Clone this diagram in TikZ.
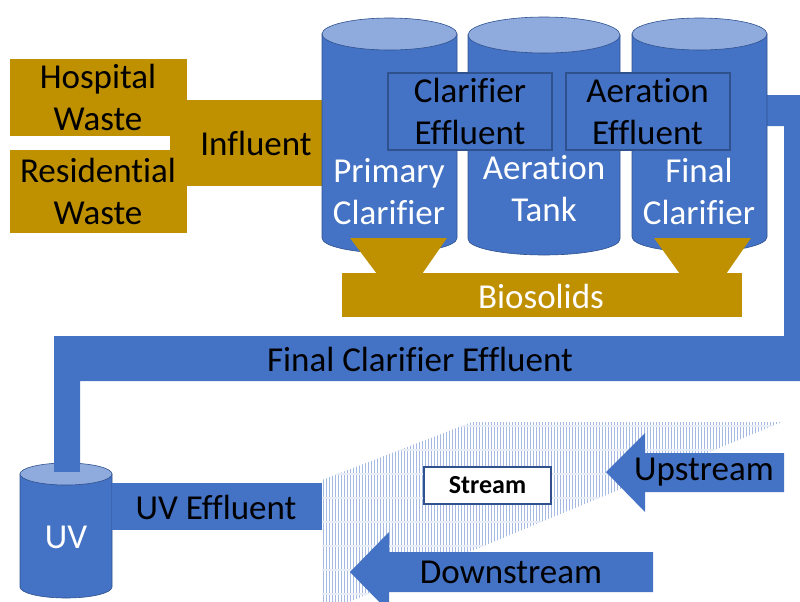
\documentclass[tikz,border=0pt]{standalone}
\usepackage{fontspec}
\setmainfont{Carlito}[Ligatures=NoCommon]
\definecolor{pipeblue}{HTML}{4472C4}
\definecolor{toplight}{HTML}{8FAADC}
\definecolor{edgeblue}{HTML}{2F528F}
\definecolor{sludge}{HTML}{BF9000}
\definecolor{hatchblue}{HTML}{A6BBE3}
\definecolor{hatchpale}{HTML}{E8EDF7}
\tikzset{
  lbl/.style={font=\fontsize{35}{42}\selectfont, align=center, inner sep=0pt},
  lblwhite/.style={lbl, text=white},
  effbox/.style={lbl, draw=edgeblue, line width=2pt, fill=pipeblue, minimum width=164pt, minimum height=77pt},
  pipe/.style={fill=pipeblue},
  goldfill/.style={fill=sludge},
  tankbody/.style={fill=pipeblue, draw=edgeblue, line width=0.6pt},
  tanklid/.style={fill=toplight, draw=edgeblue, line width=0.6pt},
}
% tank: left x, right x, lid centre y, base centre y, lid radius, base radius
\newcommand{\drawtank}[6]{%
  \pgfmathsetmacro{\tcx}{(#1+#2)/2}%
  \pgfmathsetmacro{\trx}{(#2-#1)/2}%
  \path[tankbody] (#1,#3) -- (#1,#4)
     arc[start angle=180, end angle=360, x radius=\trx pt, y radius=#6pt]
     -- (#2,#3) -- cycle;
  \path[tanklid] (\tcx,#3) ellipse[x radius=\trx pt, y radius=#5pt];
}
\begin{document}
\begin{tikzpicture}[x=1pt, y=-1pt]
\useasboundingbox (0,0) rectangle (800,602);
\clip (0,0) rectangle (800,602);

% ---------- stream bed (hatched) ----------
\begin{scope}
  \clip (322,480) -- (472,422) -- (782,422) -- (349,602) -- (322,602) -- cycle;
  \fill[white] (300,400) rectangle (800,602);
  \foreach \i in {0,...,155} {
    \draw[hatchblue, line width=1pt] ({323+3*\i},415) -- ++(0,190);
  }
  \foreach \j in {0,...,8} {
    \draw[hatchpale, line width=1.2pt] (320,{426+24*\j}) -- ++(470,0);
  }
\end{scope}

% ---------- influent ----------
\path[goldfill] (170,100) rectangle (322,186);
\path[goldfill] (10,59) rectangle (187,136);
\path[goldfill] (10,150) rectangle (187,233);
\node[lbl] (hosp) at (98,97) {Hospital\\Waste};
\node[lbl] (resi) at (98,191) {Residential\\Waste};
\node[lbl] (infl) at (256,143) {Influent};

% ---------- outlet pipe from the final clarifier to UV ----------
\path[pipe] (760,95) -- (800,95) -- (800,381) -- (80,381) -- (80,472)
   -- (54,472) -- (54,336) -- (784,336) -- (784,126) -- (760,126) -- cycle;
\node[lbl] (fce) at (420,359) {Final Clarifier Effluent};

% ---------- treatment tanks ----------
\drawtank{322}{457}{34}{238}{16}{15}
\drawtank{468}{620}{35}{239}{18}{16}
\drawtank{632}{767}{34}{237}{16}{15}
\node[lblwhite] (pc) at (389,192) {Primary\\Clarifier};
\node[lblwhite] (at) at (544,189) {Aeration\\Tank};
\node[lblwhite] (fc) at (699,191) {Final\\Clarifier};

\node[effbox] (ce) at (470,111.5) {Clarifier\\Effluent};
\node[effbox] (ae) at (647.5,111.5) {Aeration\\Effluent};

% ---------- sludge hoppers and biosolids ----------
\path[goldfill] (350,238) -- (447,238) -- (422,274) -- (377,274) -- cycle;
\path[goldfill] (654,238) -- (751,238) -- (726,274) -- (680,274) -- cycle;
\path[goldfill] (342,273) rectangle (742,317);
\node[lblwhite] (bio) at (541,296) {Biosolids};

% ---------- UV disinfection ----------
\drawtank{20}{112}{474}{587}{11}{11}
\path[pipe] (54,440) rectangle (80,472);
\node[lblwhite] (uv) at (66,537) {UV};
\path[pipe] (112,483) rectangle (322,530);
\node[lbl] (uve) at (216,507) {UV Effluent};

% ---------- stream ----------
\node[draw=edgeblue, line width=1.2pt, fill=white, minimum width=127pt, minimum height=37pt,
      font=\fontsize{26}{30}\selectfont\bfseries, inner sep=0pt] (stream) at (487.5,485.5) {Stream};

\path[pipe] (606,472) -- (645,433) -- (645,453) -- (784,453) -- (784,492)
   -- (645,492) -- (645,512) -- cycle;
\node[lbl] (up) at (704,472) {Upstream};

\path[pipe] (350,572) -- (389,532) -- (389,552) -- (653,552) -- (653,592)
   -- (389,592) -- (389,612) -- cycle;
\node[lbl] (down) at (511,572) {Downstream};
\end{tikzpicture}
\end{document}
